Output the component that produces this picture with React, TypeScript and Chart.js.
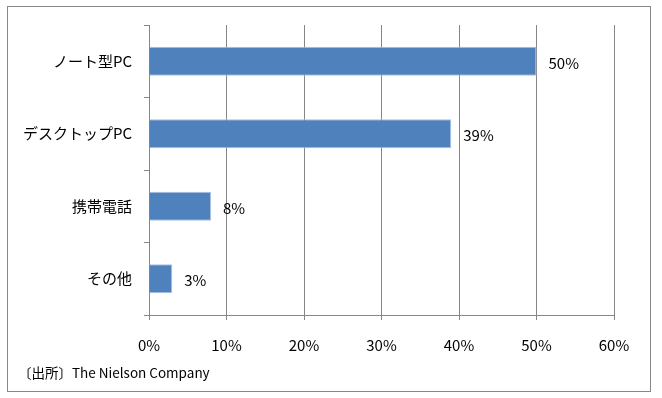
import React, { useEffect, useRef } from "react";
import { Chart, registerables } from "chart.js";

Chart.register(...registerables);

const categories = ["ノート型PC", "デスクトップPC", "携帯電話", "その他"];
const values = [50, 39, 8, 3];
const xTicks = [0, 10, 20, 30, 40, 50, 60];
const sourceText = "〔出所〕The Nielson Company";

const FONT = "'Noto Sans CJK JP', 'Noto Sans', sans-serif";

const dataLabelPlugin = {
  id: "dataLabels",
  afterDatasetsDraw(chart: any) {
    const ctx = chart.ctx;
    const meta = chart.getDatasetMeta(0);
    ctx.save();
    ctx.font = `15px ${FONT}`;
    ctx.fillStyle = "#000";
    ctx.textAlign = "left";
    ctx.textBaseline = "middle";
    meta.data.forEach((bar: any, i: number) => {
      ctx.fillText(values[i] + "%", bar.x + 12, bar.y + 2);
    });
    ctx.restore();
  },
};

export default function App() {
  const ref = useRef<HTMLCanvasElement>(null);
  useEffect(() => {
    document.body.style.margin = "0";
    const chart = new Chart(ref.current!, {
      type: "bar",
      data: {
        labels: categories,
        datasets: [
          {
            data: values,
            backgroundColor: "#4F81BD",
            borderColor: "#A9C1E0",
            borderWidth: 1,
            barPercentage: 0.4,
            categoryPercentage: 1,
          },
        ],
      },
      options: {
        indexAxis: "y",
        animation: false,
        responsive: false,
        layout: { padding: { left: 0, right: 48, top: 25, bottom: 0 } },
        plugins: { legend: { display: false }, tooltip: { enabled: false } },
        scales: {
          x: {
            min: 0,
            max: 60,
            afterBuildTicks: (s: any) => {
              s.ticks = xTicks.map((v) => ({ value: v }));
            },
            afterFit: (s: any) => {
              s.height = 83;
            },
            grid: {
              color: "#868686",
              lineWidth: 1,
              tickLength: 5,
              drawTicks: true,
            },
            border: { display: true, color: "#868686" },
            ticks: {
              font: { family: FONT, size: 15 },
              color: "#000",
              padding: 16,
              maxRotation: 0,
              callback: (v: any) => v + "%",
            },
          },
          y: {
            afterFit: (s: any) => {
              s.width = 149;
            },
            grid: {
              drawOnChartArea: false,
              drawTicks: true,
              tickLength: 5,
              color: "#868686",
              offset: true,
            },
            border: { display: true, color: "#868686" },
            ticks: {
              font: { family: FONT, size: 15 },
              color: "#000",
              padding: 12,
            },
          },
        },
      },
      plugins: [dataLabelPlugin],
    } as any);
    return () => chart.destroy();
  }, []);
  return (
    <div style={{ position: "relative", width: 662, height: 398, background: "#fff" }}>
      <div
        style={{
          position: "absolute",
          left: 7,
          top: 6,
          width: 642,
          height: 384,
          border: "1px solid #888",
          boxSizing: "content-box",
        }}
      />
      <canvas ref={ref} width={662} height={398} style={{ position: "absolute", left: 0, top: 0 }} />
      <div
        style={{
          position: "absolute",
          left: 18,
          top: 362,
          fontFamily: FONT,
          fontSize: 13.5,
          lineHeight: "20px",
          color: "#000",
          whiteSpace: "nowrap",
        }}
      >
        {sourceText}
      </div>
    </div>
  );
}
